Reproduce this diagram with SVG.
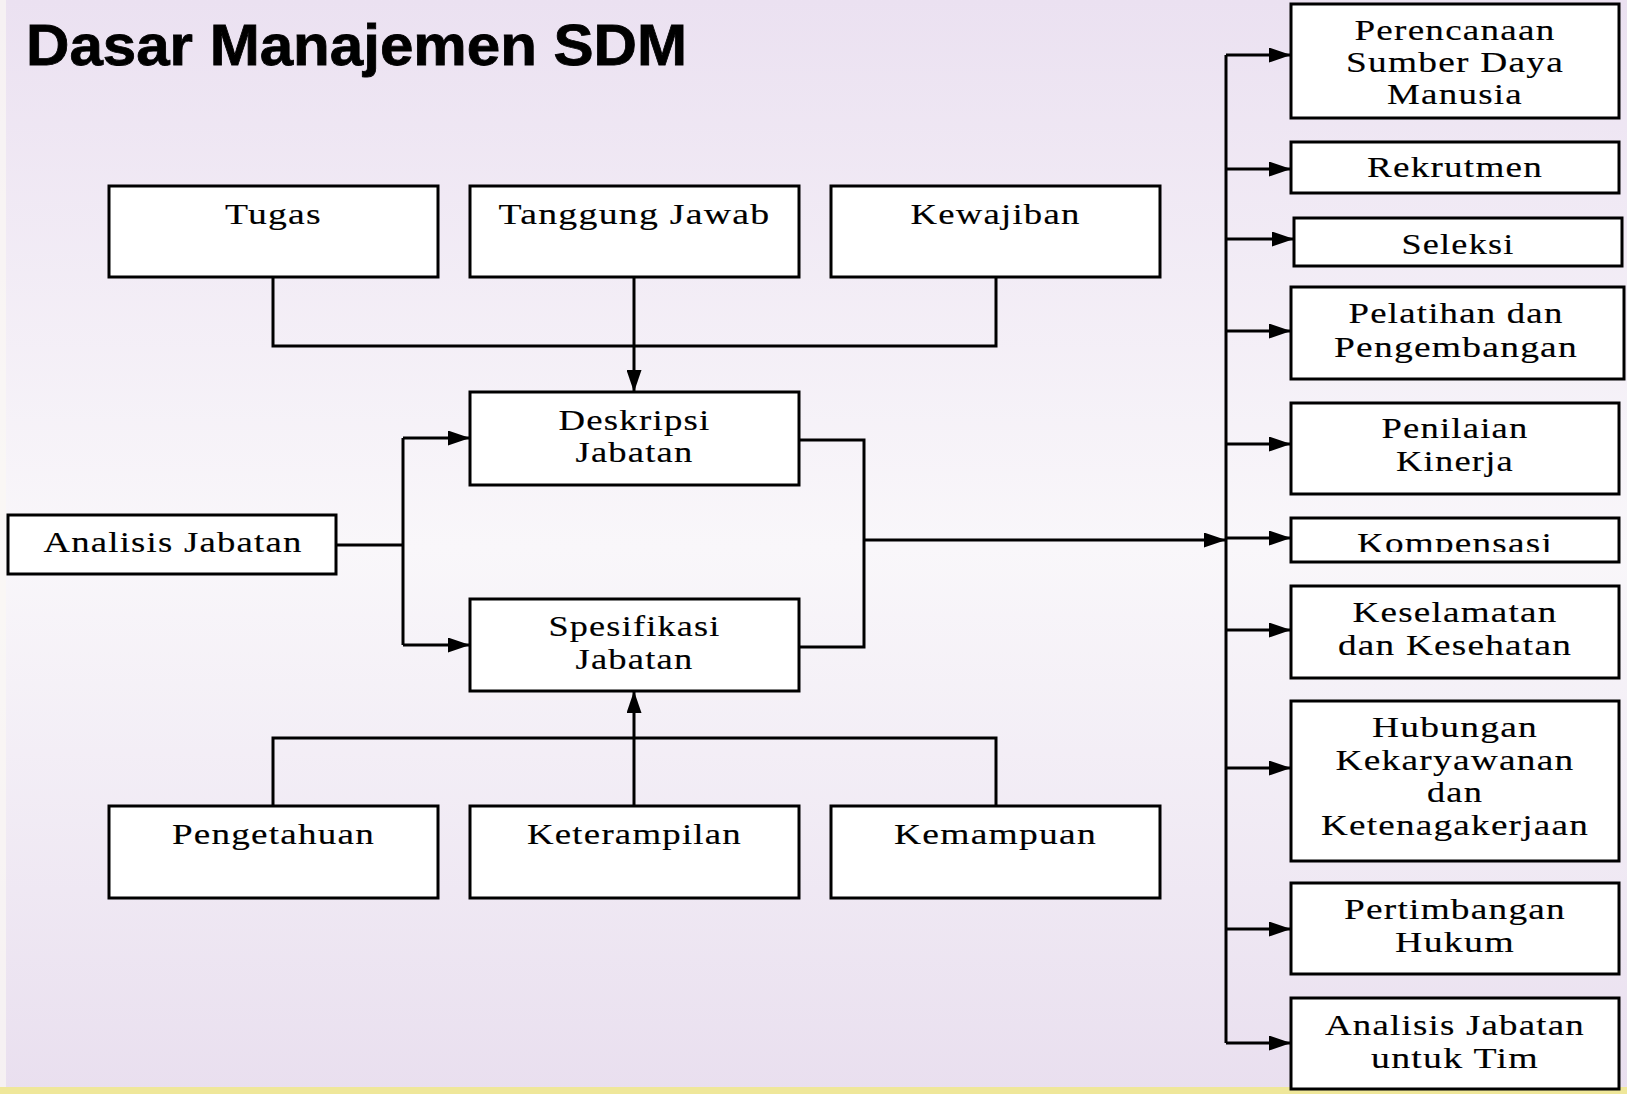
<svg xmlns="http://www.w3.org/2000/svg" width="1627" height="1094" viewBox="0 0 1627 1094">
<defs>
<linearGradient id="bg" x1="0" y1="0" x2="0" y2="1">
<stop offset="0" stop-color="#ebe1f1"/>
<stop offset="0.5" stop-color="#f9f7fa"/>
<stop offset="1" stop-color="#e9dfef"/>
</linearGradient>
<marker id="arr" viewBox="0 0 10 10" preserveAspectRatio="none" refX="10" refY="5" markerWidth="22" markerHeight="15" markerUnits="userSpaceOnUse" orient="auto">
<path d="M0,0 L10,5 L0,10 z" fill="#000"/>
</marker>
<clipPath id="kclip"><rect x="1291" y="518" width="328" height="34"/></clipPath>
<style>
.box{fill:#fff;stroke:#000;stroke-width:3}
.t{font-family:"Liberation Serif","Times New Roman",serif;font-size:30px;letter-spacing:1px;fill:#000;stroke:#000;stroke-width:0.15;text-anchor:middle}
.c{fill:none;stroke:#000;stroke-width:3}
.title{font-family:"Liberation Sans",Arial,sans-serif;font-weight:700;font-size:58px;fill:#000;stroke:#000;stroke-width:0.8}
</style>
</defs>
<rect x="0" y="0" width="1627" height="1094" fill="url(#bg)"/>
<rect x="0" y="0" width="6" height="1094" fill="#fbf8f3" opacity="0.7"/>
<rect x="0" y="1087" width="1627" height="7" fill="#efe79a"/>
<text class="title" x="26" y="65" textLength="661" lengthAdjust="spacingAndGlyphs">Dasar Manajemen SDM</text>

<g id="connectors">
<polyline class="c" points="273,277 273,346 996,346 996,277"/>
<line class="c" x1="634" y1="277" x2="634" y2="392" marker-end="url(#arr)"/>
<polyline class="c" points="336,545 403,545"/>
<polyline class="c" points="403,438 403,645"/>
<line class="c" x1="403" y1="438" x2="470" y2="438" marker-end="url(#arr)"/>
<line class="c" x1="403" y1="645" x2="470" y2="645" marker-end="url(#arr)"/>
<polyline class="c" points="799,440 864,440 864,647 799,647"/>
<line class="c" x1="864" y1="540" x2="1226" y2="540" marker-end="url(#arr)"/>
<polyline class="c" points="273,806 273,738 996,738 996,806"/>
<line class="c" x1="634" y1="806" x2="634" y2="691" marker-end="url(#arr)"/>
<line class="c" x1="1226" y1="55" x2="1226" y2="1043"/>
<line class="c" x1="1226" y1="55" x2="1291" y2="55" marker-end="url(#arr)"/>
<line class="c" x1="1226" y1="169" x2="1291" y2="169" marker-end="url(#arr)"/>
<line class="c" x1="1226" y1="239" x2="1294" y2="239" marker-end="url(#arr)"/>
<line class="c" x1="1226" y1="331" x2="1291" y2="331" marker-end="url(#arr)"/>
<line class="c" x1="1226" y1="444" x2="1291" y2="444" marker-end="url(#arr)"/>
<line class="c" x1="1226" y1="538" x2="1291" y2="538" marker-end="url(#arr)"/>
<line class="c" x1="1226" y1="630" x2="1291" y2="630" marker-end="url(#arr)"/>
<line class="c" x1="1226" y1="768" x2="1291" y2="768" marker-end="url(#arr)"/>
<line class="c" x1="1226" y1="929" x2="1291" y2="929" marker-end="url(#arr)"/>
<line class="c" x1="1226" y1="1043" x2="1291" y2="1043" marker-end="url(#arr)"/>
</g>

<g id="tugas"><rect class="box" x="109" y="186" width="329" height="91"/><text class="t" x="273.5" y="224" textLength="97" lengthAdjust="spacingAndGlyphs">Tugas</text></g>
<g id="tanggung-jawab"><rect class="box" x="470" y="186" width="329" height="91"/><text class="t" x="634.5" y="224" textLength="272" lengthAdjust="spacingAndGlyphs">Tanggung Jawab</text></g>
<g id="kewajiban"><rect class="box" x="831" y="186" width="329" height="91"/><text class="t" x="995.5" y="224" textLength="170" lengthAdjust="spacingAndGlyphs">Kewajiban</text></g>

<g id="deskripsi"><rect class="box" x="470" y="392" width="329" height="93"/><text class="t" x="634.5" y="430" textLength="152" lengthAdjust="spacingAndGlyphs">Deskripsi</text><text class="t" x="634.5" y="462" textLength="118" lengthAdjust="spacingAndGlyphs">Jabatan</text></g>
<g id="spesifikasi"><rect class="box" x="470" y="599" width="329" height="92"/><text class="t" x="634.5" y="636" textLength="172" lengthAdjust="spacingAndGlyphs">Spesifikasi</text><text class="t" x="634.5" y="669" textLength="118" lengthAdjust="spacingAndGlyphs">Jabatan</text></g>
<g id="analisis"><rect class="box" x="8" y="515" width="328" height="59"/><text class="t" x="173" y="552" textLength="259" lengthAdjust="spacingAndGlyphs">Analisis Jabatan</text></g>

<g id="pengetahuan"><rect class="box" x="109" y="806" width="329" height="92"/><text class="t" x="273.5" y="844" textLength="203" lengthAdjust="spacingAndGlyphs">Pengetahuan</text></g>
<g id="keterampilan"><rect class="box" x="470" y="806" width="329" height="92"/><text class="t" x="634.5" y="844" textLength="215" lengthAdjust="spacingAndGlyphs">Keterampilan</text></g>
<g id="kemampuan"><rect class="box" x="831" y="806" width="329" height="92"/><text class="t" x="995.5" y="844" textLength="203" lengthAdjust="spacingAndGlyphs">Kemampuan</text></g>

<g id="perencanaan"><rect class="box" x="1291" y="4" width="328" height="114"/><text class="t" x="1455" y="40" textLength="201" lengthAdjust="spacingAndGlyphs">Perencanaan</text><text class="t" x="1455" y="72" textLength="218" lengthAdjust="spacingAndGlyphs">Sumber Daya</text><text class="t" x="1455" y="104" textLength="136" lengthAdjust="spacingAndGlyphs">Manusia</text></g>
<g id="rekrutmen"><rect class="box" x="1291" y="142" width="328" height="51"/><text class="t" x="1455" y="177" textLength="176" lengthAdjust="spacingAndGlyphs">Rekrutmen</text></g>
<g id="seleksi"><rect class="box" x="1294" y="218" width="328" height="48"/><text class="t" x="1458" y="254" textLength="113" lengthAdjust="spacingAndGlyphs">Seleksi</text></g>
<g id="pelatihan"><rect class="box" x="1291" y="287" width="333" height="92"/><text class="t" x="1456" y="323" textLength="215" lengthAdjust="spacingAndGlyphs">Pelatihan dan</text><text class="t" x="1456" y="357" textLength="244" lengthAdjust="spacingAndGlyphs">Pengembangan</text></g>
<g id="penilaian"><rect class="box" x="1291" y="403" width="328" height="91"/><text class="t" x="1455" y="438" textLength="147" lengthAdjust="spacingAndGlyphs">Penilaian</text><text class="t" x="1455" y="471" textLength="118" lengthAdjust="spacingAndGlyphs">Kinerja</text></g>
<g id="kompensasi"><rect class="box" x="1291" y="518" width="328" height="44"/><text class="t" x="1455" y="553" textLength="196" lengthAdjust="spacingAndGlyphs" clip-path="url(#kclip)">Kompensasi</text></g>
<g id="keselamatan"><rect class="box" x="1291" y="586" width="328" height="92"/><text class="t" x="1455" y="622" textLength="205" lengthAdjust="spacingAndGlyphs">Keselamatan</text><text class="t" x="1455" y="655" textLength="234" lengthAdjust="spacingAndGlyphs">dan Kesehatan</text></g>
<g id="hubungan"><rect class="box" x="1291" y="701" width="328" height="160"/><text class="t" x="1455" y="737" textLength="166" lengthAdjust="spacingAndGlyphs">Hubungan</text><text class="t" x="1455" y="770" textLength="239" lengthAdjust="spacingAndGlyphs">Kekaryawanan</text><text class="t" x="1455" y="802" textLength="56" lengthAdjust="spacingAndGlyphs">dan</text><text class="t" x="1455" y="835" textLength="268" lengthAdjust="spacingAndGlyphs">Ketenagakerjaan</text></g>
<g id="pertimbangan"><rect class="box" x="1291" y="883" width="328" height="91"/><text class="t" x="1455" y="919" textLength="222" lengthAdjust="spacingAndGlyphs">Pertimbangan</text><text class="t" x="1455" y="952" textLength="120" lengthAdjust="spacingAndGlyphs">Hukum</text></g>
<g id="analisis-tim"><rect class="box" x="1291" y="998" width="328" height="91"/><text class="t" x="1455" y="1035" textLength="260" lengthAdjust="spacingAndGlyphs">Analisis Jabatan</text><text class="t" x="1455" y="1068" textLength="168" lengthAdjust="spacingAndGlyphs">untuk Tim</text></g>
</svg>
